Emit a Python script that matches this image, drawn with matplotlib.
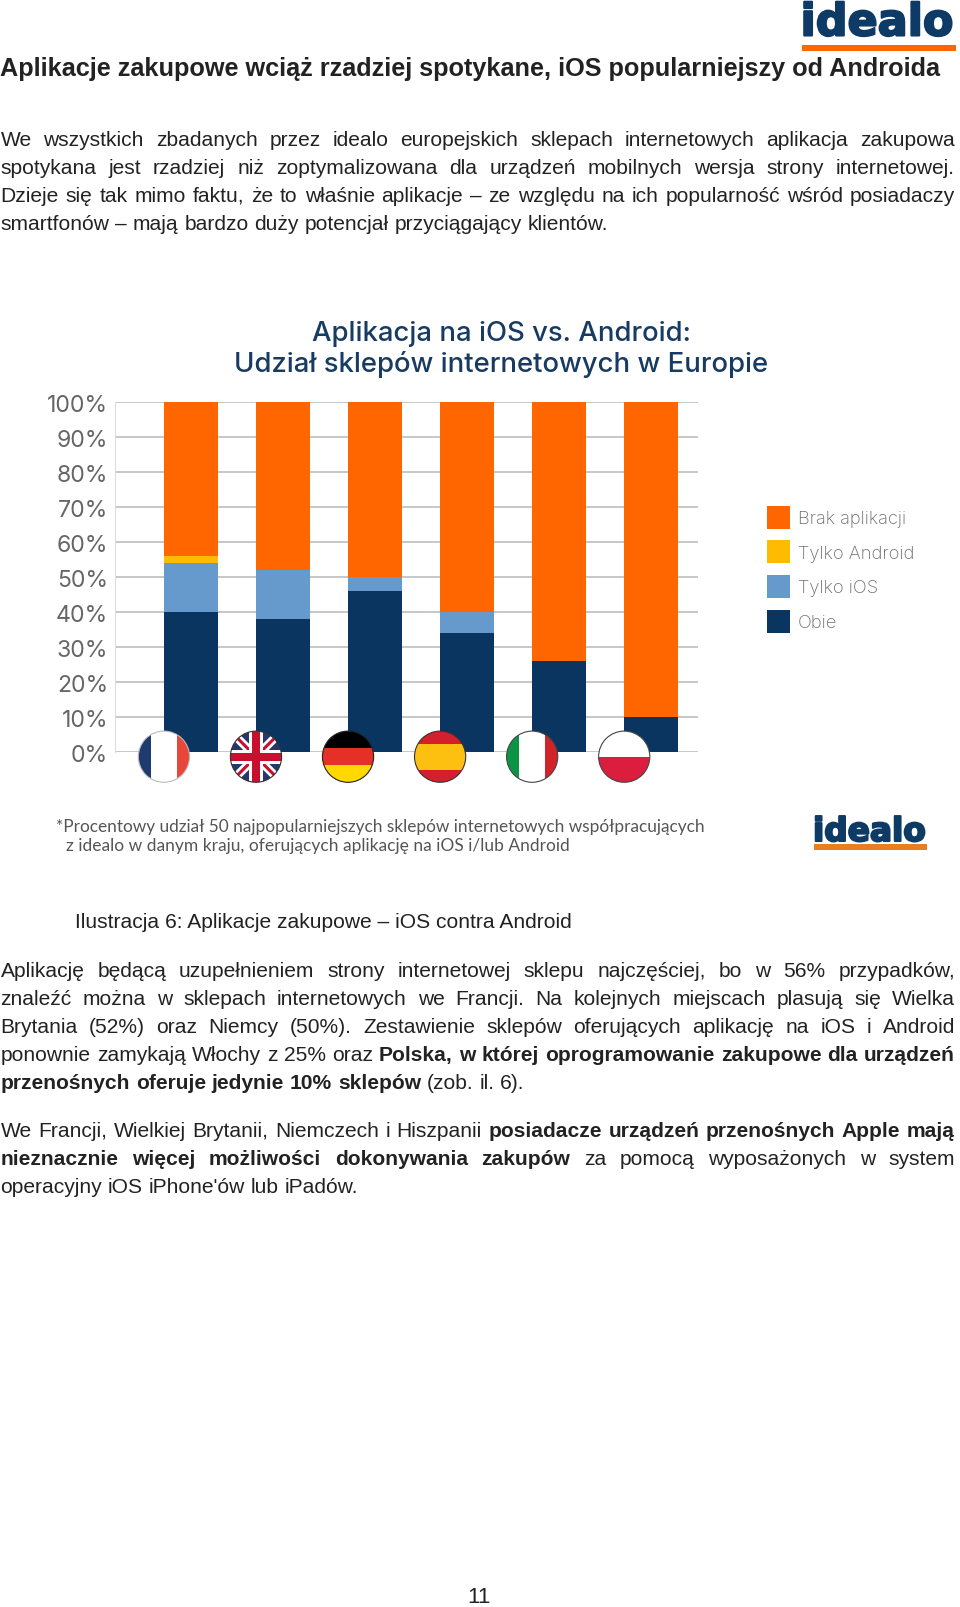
import matplotlib
matplotlib.use("Agg")
import matplotlib.pyplot as plt
import matplotlib.patheffects as pe
from matplotlib.patches import Circle, Rectangle, Polygon

# chart data (percent of shops)
countries = ["Francja", "Wielka Brytania", "Niemcy", "Hiszpania", "Włochy", "Polska"]
both_apps = [40, 38, 46, 34, 26, 10]
only_ios = [14, 14, 4, 6, 0, 0]
only_android = [2, 0, 0, 0, 0, 0]
no_app = [44, 48, 50, 60, 74, 90]
tick_values = [0, 10, 20, 30, 40, 50, 60, 70, 80, 90, 100]
legend_labels = ["Brak aplikacji", "Tylko Android", "Tylko iOS", "Obie"]

# page text
heading = "Aplikacje zakupowe wciąż rzadziej spotykane, iOS popularniejszy od Androida"
intro_lines = [
    "We wszystkich zbadanych przez idealo europejskich sklepach internetowych aplikacja zakupowa",
    "spotykana jest rzadziej niż zoptymalizowana dla urządzeń mobilnych wersja strony internetowej.",
    "Dzieje się tak mimo faktu, że to właśnie aplikacje – ze względu na ich popularność wśród posiadaczy",
    "smartfonów – mają bardzo duży potencjał przyciągający klientów.",
]
caption = "Ilustracja 6: Aplikacje zakupowe – iOS contra Android"
# (regular part, bold part, regular part)
para1_lines = [
    ("Aplikację będącą uzupełnieniem strony internetowej sklepu najczęściej, bo w 56% przypadków,", "", ""),
    ("znaleźć można w sklepach internetowych we Francji. Na kolejnych miejscach plasują się Wielka", "", ""),
    ("Brytania (52%) oraz Niemcy (50%). Zestawienie sklepów oferujących aplikację na iOS i Android", "", ""),
    ("ponownie zamykają Włochy z 25% oraz", "Polska, w której oprogramowanie zakupowe dla urządzeń", ""),
    ("", "przenośnych oferuje jedynie 10% sklepów", "(zob. il. 6)."),
]
para2_lines = [
    ("We Francji, Wielkiej Brytanii, Niemczech i Hiszpanii", "posiadacze urządzeń przenośnych Apple mają", ""),
    ("", "nieznacznie więcej możliwości dokonywania zakupów", "za pomocą wyposażonych w system"),
    ("operacyjny iOS iPhone'ów lub iPadów.", "", ""),
]
chart_title = ["Aplikacja na iOS vs. Android:", "Udział sklepów internetowych w Europie"]
footnote = [
    "*Procentowy udział 50 najpopularniejszych sklepów internetowych współpracujących",
    "z idealo w danym kraju, oferujących aplikację na iOS i/lub Android",
]

W, H = 960, 1608
NAVY = "#0A3560"
ORANGE = "#FF6600"
AMBER = "#FFBB00"
SKY = "#6699CC"
BODY = "Liberation Sans"
BODY_PT = 15.1
TEXT_COL = "#222222"

fig = plt.figure(figsize=(W / 100, H / 100), dpi=100, facecolor="white")

# the chart itself
ax = fig.add_axes([115 / W, 1 - 753.3 / H, 583 / W, 350.3 / H])
bar_w = 0.585
xs = list(range(len(countries)))
bottom = [0] * len(xs)
containers = {}
for name, vals, col in [("Obie", both_apps, NAVY), ("Tylko iOS", only_ios, SKY),
                        ("Tylko Android", only_android, AMBER), ("Brak aplikacji", no_app, ORANGE)]:
    containers[name] = ax.bar(xs, vals, bar_w, bottom=bottom, color=col, zorder=3)
    bottom = [b + v for b, v in zip(bottom, vals)]
ax.set_xlim(-0.824, 5.509)
ax.set_ylim(0, 100)
ax.set_xticks([])
ax.set_yticks(tick_values)
ax.set_yticklabels([f"{v}%" for v in tick_values], family="Inter", fontsize=16.6, color="#666666", va="center")
ax.tick_params(axis="y", length=0, pad=5)
for lab in ax.get_yticklabels():
    lab.set_transform(lab.get_transform() + matplotlib.transforms.ScaledTranslation(0, -3 / 100, fig.dpi_scale_trans))
ax.grid(axis="y", color="#BDBDBD", lw=1.2, zorder=0)
ax.set_axisbelow(True)
for side in ["top", "right", "bottom"]:
    ax.spines[side].set_visible(False)
ax.spines["left"].set_color("#DDDDDD")
ax.spines["left"].set_linewidth(0.8)

# everything else is laid out in page pixels
page = fig.add_axes([0, 0, 1, 1], zorder=5)
page.set_xlim(0, W)
page.set_ylim(H, 0)
page.axis("off")
page.patch.set_alpha(0)

renderer = fig.canvas.get_renderer()


def word_width(word, bold, size=BODY_PT):
    t = page.text(0, 0, word, family=BODY, fontsize=size, fontweight="bold" if bold else "normal")
    w = t.get_window_extent(renderer).width
    t.remove()
    return w


def draw_line(y, parts, justify=True, x0=0.5, x1=955):
    words = []
    for text, bold in parts:
        words += [(w, bold) for w in text.split()]
    widths = [word_width(w, b) for w, b in words]
    gap = (x1 - x0 - sum(widths)) / (len(words) - 1) if justify else BODY_PT * 100 / 72 * 0.278
    x = x0
    for (w, b), ww in zip(words, widths):
        page.text(x, y, w, family=BODY, fontsize=BODY_PT, color=TEXT_COL,
                  fontweight="bold" if b else "normal", va="baseline", ha="left")
        x += ww + gap


page.text(0.5, 76, heading, family=BODY, fontsize=18.15, fontweight="bold", color=TEXT_COL, va="baseline")
for i, line in enumerate(intro_lines):
    draw_line(145.5 + 28 * i, [(line, False)], justify=i < 3)
page.text(75, 928.5, caption, family=BODY, fontsize=BODY_PT, color=TEXT_COL, va="baseline")
for i, (a, b, c) in enumerate(para1_lines):
    draw_line(977.5 + 28 * i, [(a, False), (b, True), (c, False)], justify=i < 4)
for i, (a, b, c) in enumerate(para2_lines):
    draw_line(1137.5 + 28 * i, [(a, False), (b, True), (c, False)], justify=i < 2)
page.text(478.5, 1603, "11", family=BODY, fontsize=16, color=TEXT_COL, ha="center", va="baseline")

# chart title and footnote
for y, line in zip([341, 372], chart_title):
    page.text(501, y, line, family="Inter", fontsize=19.8, fontweight="medium", color="#173B63",
              ha="center", va="baseline")
page.text(56.4, 832, footnote[0], family="Lato", fontsize=12.38, color="#555555", va="baseline")
page.text(65.5, 851, footnote[1], family="Lato", fontsize=12.5, color="#555555", va="baseline")

# legend
leg_fs = 13.2
leg_px = leg_fs * 100 / 72
page.legend([containers[n] for n in legend_labels], legend_labels, loc="upper left",
            bbox_to_anchor=(766.7, 506.7), bbox_transform=page.transData, frameon=False,
            borderpad=0, borderaxespad=0, handlelength=23.5 / leg_px,
            handleheight=(23 / leg_px - 0.245) / 0.65,
            labelspacing=(34.2 - 22.6) / leg_px, handletextpad=8 / leg_px,
            prop={"family": "Inter", "size": leg_fs, "weight": "light"}, labelcolor="#6E6E6E")


# flags
def add_flag(cx, cy, r, shapes, edge):
    clip = Circle((cx, cy), r, transform=page.transData)
    for s in shapes:
        s.set_clip_path(clip)
        s.set_linewidth(0)
        page.add_patch(s)
    page.add_patch(Circle((cx, cy), r, facecolor="none", edgecolor=edge, lw=0.8, zorder=9))


def vbands(cx, cy, r, cols, d=12.8):
    edges = [cx - r, cx - d, cx + d, cx + r]
    return [Rectangle((edges[i], cy - r), edges[i + 1] - edges[i], 2 * r, facecolor=cols[i], zorder=8) for i in range(3)]


def hbands(cx, cy, r, cols, cuts):
    edges = [cy - r] + [cy + c for c in cuts] + [cy + r]
    return [Rectangle((cx - r, edges[i]), 2 * r, edges[i + 1] - edges[i], facecolor=cols[i], zorder=8) for i in range(len(cols))]


def uk_flag(cx, cy, r):
    def diag(sign, half, col):
        return Polygon([(cx - r - half, cy - sign * r), (cx - r + half, cy - sign * r),
                        (cx + r + half, cy + sign * r), (cx + r - half, cy + sign * r)],
                       closed=True, facecolor=col, zorder=8)
    shapes = [Rectangle((cx - r, cy - r), 2 * r, 2 * r, facecolor="#27366B", zorder=8)]
    shapes += [diag(1, 6, "white"), diag(-1, 6, "white"), diag(1, 2.2, "#C8102E"), diag(-1, 2.2, "#C8102E")]
    shapes += [Rectangle((cx - 7, cy - r), 14, 2 * r, facecolor="white", zorder=8),
               Rectangle((cx - r, cy - 7), 2 * r, 14, facecolor="white", zorder=8),
               Rectangle((cx - 4.2, cy - r), 8.4, 2 * r, facecolor="#C8102E", zorder=8),
               Rectangle((cx - r, cy - 4.2), 2 * r, 8.4, facecolor="#C8102E", zorder=8)]
    return shapes


fig.canvas.draw()
flag_xy = []
for x in xs:
    px, py = ax.transData.transform((x - bar_w / 2, 0))
    flag_xy.append((px, H - py + 4.4))
r = 25.6
add_flag(*flag_xy[0], r, vbands(*flag_xy[0], r, ["#1F3A6E", "white", "#E8483A"]), "#BBBBBB")
add_flag(*flag_xy[1], r, uk_flag(*flag_xy[1], r), "#333333")
add_flag(*flag_xy[2], r, hbands(*flag_xy[2], r, ["#000000", "#E53027", "#FFD800"], [-8.3, 8.3]), "#222222")
add_flag(*flag_xy[3], r, hbands(*flag_xy[3], r, ["#D4202C", "#FDC010", "#D4202C"], [-12.5, 13]), "#333333")
add_flag(*flag_xy[4], r, vbands(*flag_xy[4], r, ["#0B9444", "white", "#D2232A"]), "#444444")
add_flag(*flag_xy[5], r, hbands(*flag_xy[5], r, ["white", "#DC1E3E"], [0]), "#444444")

# idealo logos
logo_stroke = [pe.withStroke(linewidth=1.5, foreground="#0E3A66")]
page.text(800.5, 36.5, "idealo", family="DejaVu Sans", fontweight="bold", fontsize=32, color="#0E3A66",
          va="baseline", path_effects=logo_stroke)
page.add_patch(Rectangle((802, 45.7), 154, 6.6, facecolor=ORANGE, lw=0))
page.text(813, 842, "idealo", family="DejaVu Sans", fontweight="bold", fontsize=23.6, color="#0E3A66",
          va="baseline", path_effects=logo_stroke)
page.add_patch(Rectangle((814, 845), 113, 6, facecolor="#E87E22", lw=0))

fig.savefig("out.png", dpi=100, facecolor="white")
